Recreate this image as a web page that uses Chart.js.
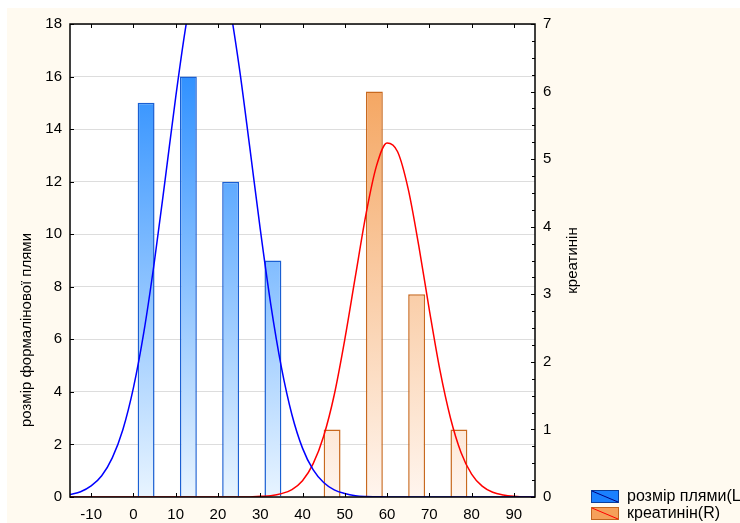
<!DOCTYPE html>
<html>
<head>
<meta charset="utf-8">
<script src="https://cdn.jsdelivr.net/npm/chart.js@4.4.0/dist/chart.umd.min.js"></script>
<style>
  html, body { margin: 0; padding: 0; background: #fff; }
  #wrap { width: 740px; height: 523px; }
</style>
</head>
<body>
<div id="wrap"><canvas id="histo" width="740" height="523"></canvas></div>
<script>
// histogram bins (bar centres) and counts
const spotBins = [3, 13, 23, 33]
const spotCounts = [15, 16, 12, 9]
const creatBins = [47, 57, 67, 77]
const creatCounts = [1, 6, 3, 1]

// fitted curves
const curveX = [-15, -12.5, -10, -7.5, -5, -2.5, 0, 2.5, 5, 7.5, 10, 12.5, 15, 17.5, 20, 22.5, 25, 27.5,
  30, 32.5, 35, 37.5, 40, 42.5, 45, 47.5, 50, 52.5, 55, 57.5, 60, 62.5, 65, 67.5, 70, 72.5, 75, 77.5,
  80, 82.5, 85, 87.5, 90, 92.5, 95]
const spotCurve = [0.09, 0.2, 0.42, 0.81, 1.49, 2.56, 4.15, 6.3, 9.0, 12.07, 15.21, 18.01, 20.03, 20.94, 20.54, 18.93, 16.4, 13.34,
  10.2, 7.32, 4.94, 3.13, 1.86, 1.04, 0.55, 0.27, 0.13, 0.05, 0.02, 0.01, 0, 0, 0, 0, 0, 0, 0, 0,
  0, 0, 0, 0, 0, 0, 0]
const creatCurve = [0, 0, 0, 0, 0, 0, 0, 0, 0, 0, 0, 0, 0, 0, 0, 0, 0, 0,
  0.01, 0.02, 0.05, 0.11, 0.24, 0.49, 0.9, 1.51, 2.33, 3.26, 4.18, 4.9, 5.24, 5.11, 4.56, 3.72, 2.77, 1.88, 1.17, 0.66,
  0.34, 0.16, 0.07, 0.03, 0.01, 0, 0]

const xTicks = [-10, 0, 10, 20, 30, 40, 50, 60, 70, 80, 90]
const leftTitle = 'розмір формалінової плями'
const rightTitle = 'креатинін'
const legendLabels = ['розмір плями(L)', 'креатинін(R)']

const FONT = '"Liberation Sans", Arial, sans-serif'
Chart.defaults.font.family = FONT
Chart.defaults.font.size = 15
Chart.defaults.color = '#000'

function grad(chart, top, bottom) {
  const a = chart.chartArea
  if (!a) return top
  const g = chart.ctx.createLinearGradient(0, a.top, 0, a.bottom)
  g.addColorStop(0, top)
  g.addColorStop(1, bottom)
  return g
}

function line(ctx, x1, y1, x2, y2) {
  ctx.beginPath()
  ctx.moveTo(x1, y1)
  ctx.lineTo(x2, y2)
  ctx.stroke()
}

function swatch(ctx, x, y, fill, edge, diag) {
  ctx.fillStyle = fill
  ctx.fillRect(x, y, 28, 13)
  ctx.lineWidth = 1
  ctx.strokeStyle = edge
  ctx.strokeRect(x + 0.5, y + 0.5, 27, 12)
  ctx.strokeStyle = diag
  line(ctx, x + 1, y + 1, x + 27, y + 12)
}

const decor = {
  id: 'decor',
  beforeDraw(chart) {
    const ctx = chart.ctx
    const a = chart.chartArea
    ctx.save()
    ctx.fillStyle = '#ffffff'
    ctx.fillRect(0, 0, chart.width, chart.height)
    ctx.fillStyle = '#fffaf0'
    ctx.fillRect(7, 8, chart.width, chart.height)
    ctx.fillStyle = '#ffffff'
    ctx.fillRect(a.left, a.top, a.width, a.height)
    ctx.restore()
  },
  afterDraw(chart) {
    const ctx = chart.ctx
    const a = chart.chartArea
    const { x, y, y1 } = chart.scales
    ctx.save()
    ctx.strokeStyle = '#000'
    ctx.lineWidth = 1
    // inner ticks
    xTicks.forEach((v) => {
      const px = Math.round(x.getPixelForValue(v)) + 0.5
      line(ctx, px, a.bottom, px, a.bottom - 4)
      line(ctx, px, a.top, px, a.top + 4)
    })
    y.ticks.forEach((t) => {
      const py = Math.round(y.getPixelForValue(t.value)) + 0.5
      line(ctx, a.left, py, a.left + 4, py)
    })
    for (let v = 0; v <= y1.max; v += 0.25) {
      const py = Math.round(y1.getPixelForValue(v)) + 0.5
      line(ctx, a.right, py, a.right - (v % 1 === 0 ? 4 : 3), py)
    }
    // frame
    ctx.lineWidth = 1.5
    ctx.strokeRect(a.left, a.top, a.width, a.height)

    // axis titles
    ctx.fillStyle = '#000'
    ctx.font = '15px ' + FONT
    ctx.textAlign = 'center'
    ctx.textBaseline = 'middle'
    ctx.save()
    ctx.translate(27, 330)
    ctx.rotate(-Math.PI / 2)
    ctx.fillText(leftTitle, 0, 0)
    ctx.restore()
    ctx.save()
    ctx.translate(573, (a.top + a.bottom) / 2)
    ctx.rotate(-Math.PI / 2)
    ctx.fillText(rightTitle, 0, 0)
    ctx.restore()

    // legend
    swatch(ctx, 591, 490, '#1a80ff', '#0a3f9a', '#000080')
    swatch(ctx, 591, 507, '#f5a05a', '#c0651f', '#ff0000')
    ctx.fillStyle = '#000'
    ctx.font = '16px ' + FONT
    ctx.textAlign = 'left'
    ctx.fillText(legendLabels[0], 627, 497)
    ctx.fillText(legendLabels[1], 627, 514)
    ctx.restore()
  },
}

new Chart(document.getElementById('histo'), {
  type: 'bar',
  data: {
    datasets: [
      {
        type: 'line',
        label: legendLabels[0],
        data: curveX.map((v, i) => ({ x: v, y: spotCurve[i] })),
        yAxisID: 'y',
        borderColor: '#0000ff',
        borderWidth: 1.5,
        pointRadius: 0,
        cubicInterpolationMode: 'monotone',
        order: 0,
      },
      {
        type: 'line',
        label: legendLabels[1],
        data: curveX.map((v, i) => ({ x: v, y: creatCurve[i] })),
        yAxisID: 'y1',
        borderColor: '#ff0000',
        borderWidth: 1.5,
        pointRadius: 0,
        cubicInterpolationMode: 'monotone',
        order: 0,
      },
      {
        label: legendLabels[0],
        data: spotBins.map((b, i) => ({ x: b, y: spotCounts[i] })),
        yAxisID: 'y',
        backgroundColor: (c) => grad(c.chart, '#1a85ff', '#e8f4ff'),
        borderColor: '#1a5fd2',
        borderWidth: 1.5,
        barPercentage: 0.4,
        categoryPercentage: 1,
        grouped: false,
        order: 2,
      },
      {
        label: legendLabels[1],
        data: creatBins.map((b, i) => ({ x: b, y: creatCounts[i] })),
        yAxisID: 'y1',
        backgroundColor: (c) => grad(c.chart, '#f39a4c', '#fff5ee'),
        borderColor: '#c8691f',
        borderWidth: 1.5,
        barPercentage: 0.4,
        categoryPercentage: 1,
        grouped: false,
        order: 2,
      },
    ],
  },
  options: {
    responsive: false,
    animation: false,
    devicePixelRatio: 1,
    layout: { padding: { top: 24, left: 0, right: 0, bottom: 0 } },
    plugins: {
      legend: { display: false },
      tooltip: { enabled: false },
    },
    scales: {
      x: {
        type: 'linear',
        position: 'bottom',
        offset: false,
        min: -15,
        max: 95,
        afterBuildTicks: (s) => { s.ticks = xTicks.map((v) => ({ value: v })) },
        afterFit: (s) => { s.height = 26 },
        grid: { display: false, drawTicks: false, offset: false },
        border: { display: false },
        ticks: { padding: 9, maxRotation: 0, autoSkip: false },
      },
      y: {
        position: 'left',
        min: 0,
        max: 18,
        ticks: { stepSize: 2, padding: 8 },
        afterFit: (s) => { s.width = 70 },
        grid: { color: '#dddddd', lineWidth: 1, drawTicks: false },
        border: { display: false },
      },
      y1: {
        position: 'right',
        min: 0,
        max: 7,
        ticks: { stepSize: 1, padding: 8 },
        afterFit: (s) => { s.width = 205 },
        grid: { display: false, drawTicks: false },
        border: { display: false },
      },
    },
  },
  plugins: [decor],
})
</script>
</body>
</html>
